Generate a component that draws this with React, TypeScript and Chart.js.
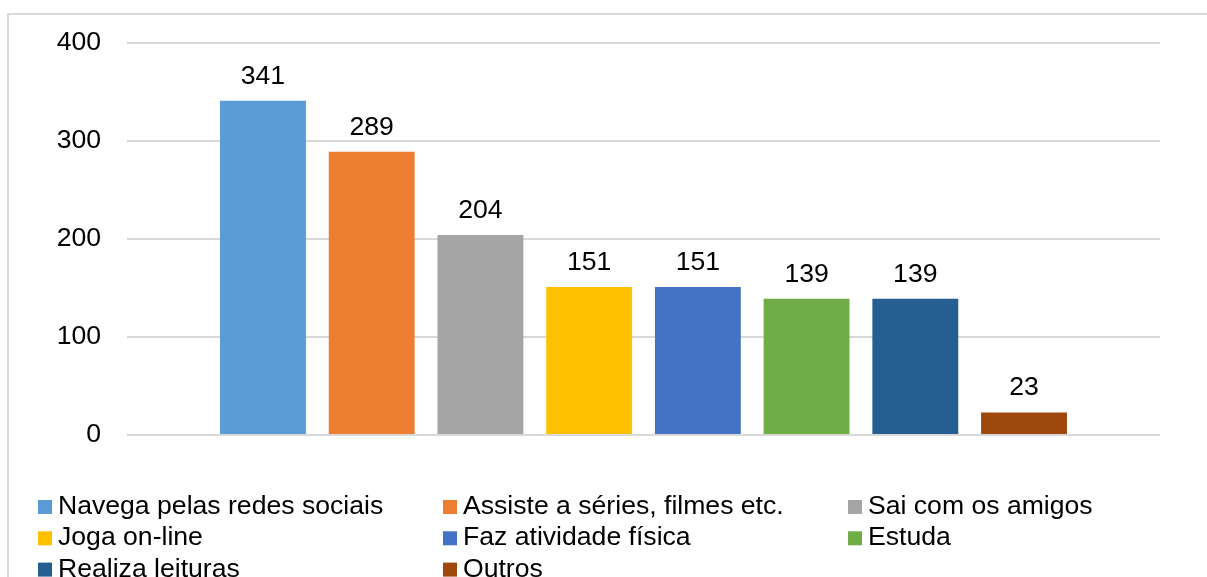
import React, { useEffect, useRef } from "react";
import { Chart, registerables } from "chart.js";

Chart.register(...registerables);

const categories = [""];
const seriesLabels = [
  "Navega pelas redes sociais",
  "Assiste a séries, filmes etc.",
  "Sai com os amigos",
  "Joga on-line",
  "Faz atividade física",
  "Estuda",
  "Realiza leituras",
  "Outros",
];
const seriesValues = [341, 289, 204, 151, 151, 139, 139, 23];
const seriesColors = [
  "#5B9BD5",
  "#ED7D31",
  "#A5A5A5",
  "#FFC000",
  "#4472C4",
  "#70AD47",
  "#255E91",
  "#9E480E",
];
const yTicks = [0, 100, 200, 300, 400];

const FONT = "'Liberation Sans', Arial, sans-serif";
const FONT_SIZE = 26.6;

const dataLabelPlugin = {
  id: "dataLabels",
  afterDatasetsDraw(chart: any) {
    const ctx = chart.ctx;
    ctx.save();
    ctx.font = `${FONT_SIZE}px ${FONT}`;
    ctx.fillStyle = "#000";
    ctx.textAlign = "center";
    ctx.textBaseline = "alphabetic";
    chart.data.datasets.forEach((ds: any, i: number) => {
      const meta = chart.getDatasetMeta(i);
      meta.data.forEach((bar: any, j: number) => {
        ctx.fillText(String(ds.data[j]), bar.x, bar.y - 17);
      });
    });
    ctx.restore();
  },
};

const gridLegendPlugin = {
  id: "gridLegend",
  afterDraw(chart: any) {
    const ctx = chart.ctx;
    ctx.save();
    ctx.font = `${FONT_SIZE}px ${FONT}`;
    ctx.textAlign = "left";
    ctx.textBaseline = "alphabetic";
    const startX = 29;
    const colW = 405;
    const startY = 499;
    const rowH = 31.3;
    const box = 14;
    chart.data.datasets.forEach((ds: any, i: number) => {
      const col = i % 3;
      const row = Math.floor(i / 3);
      const x = startX + col * colW;
      const y = startY + row * rowH;
      ctx.fillStyle = ds.backgroundColor;
      ctx.fillRect(x, y - 14, box, box);
      ctx.fillStyle = "#000";
      ctx.fillText(ds.label, x + 20, y);
    });
    ctx.restore();
  },
};

export default function App() {
  const ref = useRef<HTMLCanvasElement>(null);
  useEffect(() => {
    if (!ref.current) return;
    const chart = new Chart(ref.current, {
      type: "bar",
      data: {
        labels: categories,
        datasets: seriesLabels.map((label, i) => ({
          label,
          data: [seriesValues[i]],
          backgroundColor: seriesColors[i],
          borderWidth: 0,
          categoryPercentage: 0.842,
          barPercentage: 0.79,
        })),
      },
      options: {
        animation: false,
        responsive: false,
        layout: { padding: { top: 28, right: 47, bottom: 180, left: 0 } },
        plugins: {
          legend: { display: false },
          tooltip: { enabled: false },
        },
        scales: {
          x: { display: false },
          y: {
            min: 0,
            max: 400,
            afterBuildTicks: (scale: any) => {
              scale.ticks = yTicks.map((v) => ({ value: v }));
            },
            afterFit: (scale: any) => {
              scale.width = 118;
              scale.paddingTop = 0;
              scale.paddingBottom = 0;
            },
            border: { display: false },
            grid: { color: "#d9d9d9", lineWidth: 2, drawTicks: false },
            ticks: {
              padding: 26,
              color: "#000",
              font: { family: FONT, size: FONT_SIZE },
            },
          },
        },
      },
      plugins: [dataLabelPlugin, gridLegendPlugin],
    });
    return () => chart.destroy();
  }, []);

  return (
    <div
      style={{
        position: "absolute",
        left: 7,
        top: 13,
        width: 1200,
        height: 564,
        borderLeft: "2px solid #d9d9d9",
        borderTop: "2px solid #d9d9d9",
        boxSizing: "border-box",
        overflow: "hidden",
        background: "#fff",
      }}
    >
      <canvas ref={ref} width={1198} height={600} style={{ display: "block" }} />
    </div>
  );
}
